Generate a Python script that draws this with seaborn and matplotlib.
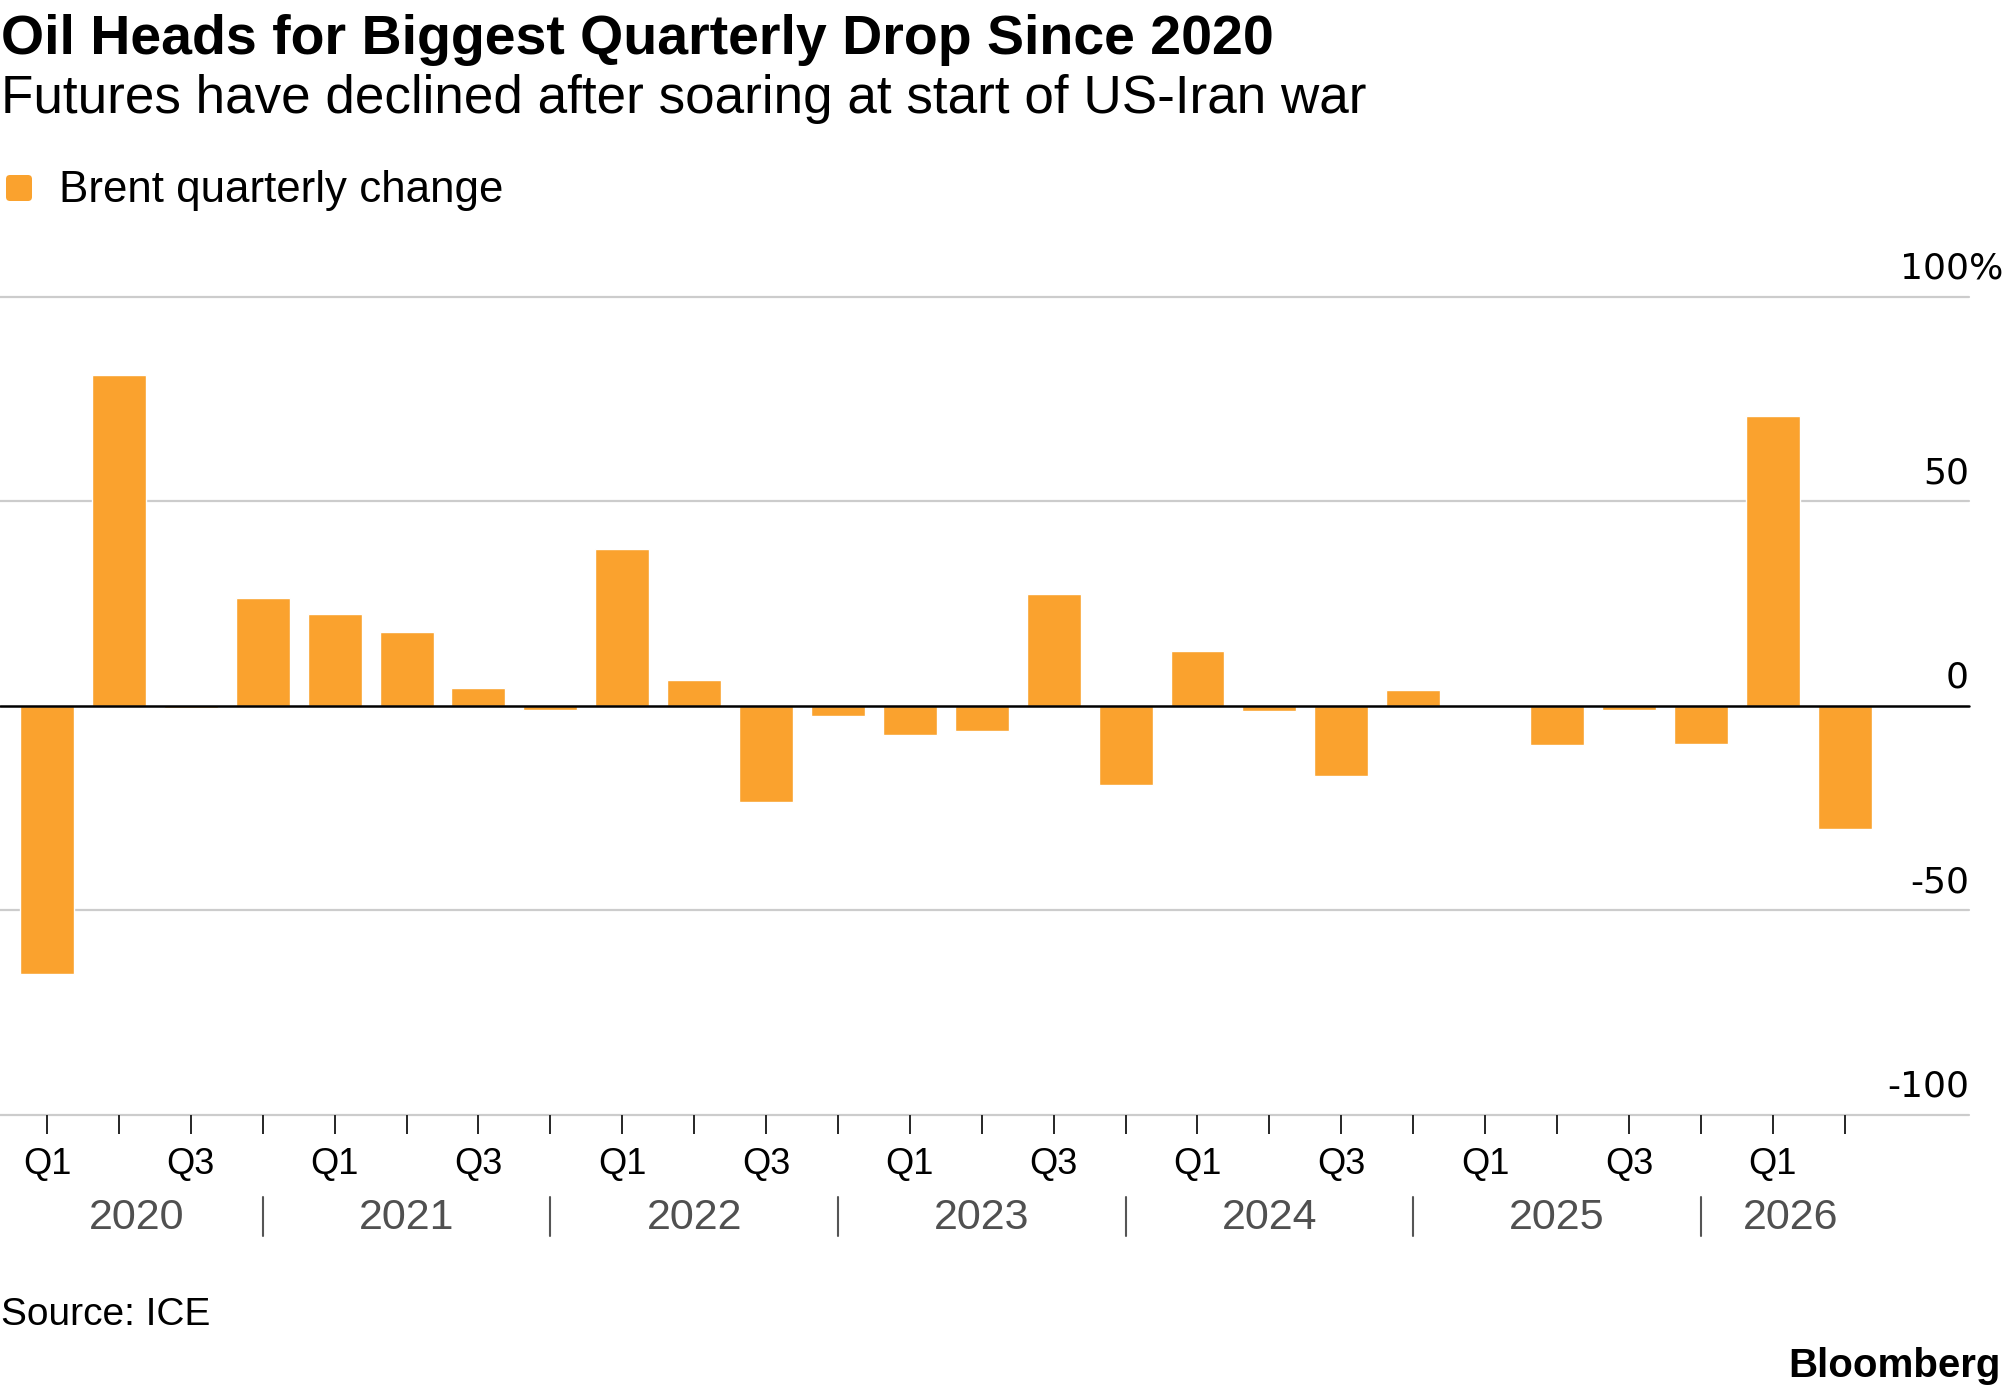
import matplotlib
matplotlib.use("Agg")
import matplotlib.pyplot as plt
import matplotlib.transforms as mtransforms
from matplotlib.patches import FancyBboxPatch
import pandas as pd
import seaborn as sns

years = [2020, 2021, 2022, 2023, 2024, 2025, 2026]
quarters = ["Q1", "Q2", "Q3", "Q4"]
quarters_2026 = ["Q1", "Q2"]
brent_change = [-65.6, 80.9, -0.5, 26.3, 22.5, 18.1, 4.4, -1.0,
                38.4, 6.3, -23.5, -2.4, -7.2, -6.2, 27.2, -19.4,
                13.4, -1.3, -17.2, 3.9, -0.3, -9.6, -1.0, -9.3,
                70.9, -30.2]
y_ticks = [-100, -50, 0, 50, 100]
labeled_quarters = ["Q1", "Q3"]

title = "Oil Heads for Biggest Quarterly Drop Since 2020"
subtitle = "Futures have declined after soaring at start of US-Iran war"
legend_label = "Brent quarterly change"
source = "Source: ICE"

orange = "#FAA22E"

rows = []
for yr in years:
    for q in (quarters_2026 if yr == 2026 else quarters):
        rows.append((yr, q))
df = pd.DataFrame(rows, columns=["year", "quarter"])
df["label"] = df["year"].astype(str) + " " + df["quarter"]
df["change"] = brent_change

sns.set_theme(style="white")
plt.rcParams["font.family"] = ["Liberation Sans", "DejaVu Sans"]

W, H = 2005, 1392
fig = plt.figure(figsize=(W / 100, H / 100), dpi=100)
ax = fig.add_axes([0, 1 - 1115 / H, 1969 / W, (1115 - 296.6) / H])

sns.barplot(data=df, x="label", y="change", color=orange, saturation=1,
            width=0.75, ax=ax, zorder=2)
ax.set_xlim(-0.654, len(df) - 1 + 1.73)
ax.set_ylim(-100, 100)
ax.set_xlabel("")
ax.set_ylabel("")
for s in ax.spines.values():
    s.set_visible(False)

# lineas horizontales
for v in y_ticks:
    if v == 0:
        ax.axhline(v, color="black", lw=1.8, zorder=3, clip_on=False)
    else:
        ax.axhline(v, color="#cccccc", lw=1.6, zorder=0, clip_on=False)

# etiquetas eje y (a la derecha, encima de la linea)
ty = mtransforms.blended_transform_factory(ax.transAxes, ax.transData)
for v in y_ticks:
    ax.text(1.0, v + 4.4, str(v), transform=ty, ha="right", va="baseline",
            fontsize=26, family="DejaVu Sans", color="black")
    if v == max(y_ticks):
        ax.text(1.0, v + 4.4, "%", transform=ty, ha="left", va="baseline",
                fontsize=26, family="DejaVu Sans", color="black")
ax.set_yticks([])

# eje x: trimestres
ax.set_xticks(range(len(df)))
ax.set_xticklabels([q if q in labeled_quarters else "" for q in df["quarter"]])
ax.tick_params(axis="x", bottom=True, length=13.7, width=1.4, pad=9,
               labelsize=26, labelcolor="black")
for tick, q in zip(ax.xaxis.get_major_ticks(), df["quarter"]):
    tick.tick1line.set_color("#cccccc" if q == "Q2" else "#222222")

# separadores y etiquetas de año
tx = mtransforms.blended_transform_factory(ax.transData, ax.transAxes)
ax_h = 1115 - 296.6
sep_top = -(1197 - 1115) / ax_h
sep_bot = -(1236 - 1115) / ax_h
year_base = -(1229 - 1115) / ax_h
prev_sep = None
for yr in years:
    idx = df.index[df["year"] == yr]
    q4 = df.index[(df["year"] == yr) & (df["quarter"] == "Q4")]
    left = prev_sep if prev_sep is not None else idx.min() - 0.5
    right = q4[0] if len(q4) else idx.max() + 0.5
    if len(q4):
        ax.plot([q4[0], q4[0]], [sep_top, sep_bot], transform=tx,
                color="#555555", lw=1.5, clip_on=False)
        prev_sep = q4[0]
    ax.text((left + right) / 2, year_base, str(yr), transform=tx,
            ha="center", va="baseline", fontsize=31, color="#505050")

# titulos
fig.text(1 / W, 1 - 53.7 / H, title, fontsize=40, weight="bold",
         va="baseline", ha="left", color="black")
fig.text(1 / W, 1 - 112.5 / H, subtitle, fontsize=38.2, va="baseline",
         ha="left", color="black")

# leyenda
sq = FancyBboxPatch((6, H - 201), 26, 26,
                    boxstyle="round,pad=0,rounding_size=4",
                    transform=mtransforms.IdentityTransform(),
                    facecolor=orange, edgecolor="none")
fig.patches.append(sq)
fig.text(59 / W, 1 - 202 / H, legend_label, fontsize=31.6, va="baseline",
         ha="left", color="black")

# pie
fig.text(1 / W, 1 - 1325 / H, source, fontsize=28, va="baseline",
         ha="left", color="black")
fig.text(2001 / W, 1 - 1377 / H, "Bloomberg", fontsize=29, weight="bold",
         va="baseline", ha="right", color="black")

fig.savefig("out.png", dpi=100)
